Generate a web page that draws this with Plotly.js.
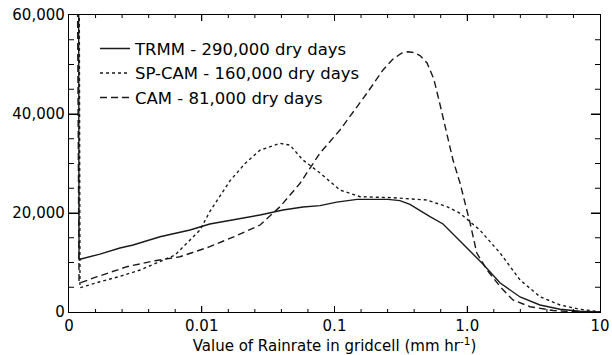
<!DOCTYPE html>
<html>
<head>
<meta charset="utf-8">
<script src="https://cdn.plot.ly/plotly-3.0.1.min.js"></script>
<style>html,body{margin:0;padding:0;background:#fff;}#chart{width:612px;height:355px;}</style>
</head>
<body>
<div id="chart"></div>
<script>
// Series names (legend)
const seriesNames = ["TRMM - 290,000 dry days", "SP-CAM - 160,000 dry days", "CAM - 81,000 dry days"];

// TRMM (solid)
const trmmX = [0.00115, 0.00119, 0.00171, 0.00242, 0.00304, 0.00485, 0.00816, 0.0115, 0.0178, 0.0275, 0.0409, 0.0579, 0.0778, 0.104, 0.148, 0.253, 0.311, 0.370, 0.524, 0.657, 0.882, 1.29, 1.77, 2.50, 3.53, 5.00, 7.07, 10];
const trmmY = [290000, 10600, 11700, 12930, 13530, 15200, 16560, 17780, 18700, 19600, 20600, 21200, 21500, 22200, 22760, 22760, 22500, 21750, 19250, 17780, 14340, 9900, 5860, 3030, 1410, 550, 150, 0];

// SP-CAM (dotted)
const spcamX = [0.00117, 0.00121, 0.00171, 0.00242, 0.00343, 0.00485, 0.00629, 0.00748, 0.00859, 0.0097, 0.0115, 0.0163, 0.0212, 0.0275, 0.0389, 0.0462, 0.0579, 0.0778, 0.110, 0.156, 0.276, 0.497, 0.704, 0.882, 1.25, 1.77, 2.50, 3.53, 5.00, 7.07, 10];
const spcamY = [160000, 4900, 6120, 7200, 8480, 10160, 11510, 13530, 15200, 16560, 20300, 26500, 30000, 32700, 34070, 33700, 30700, 28080, 24640, 23290, 23090, 22620, 21270, 19940, 16500, 11900, 6460, 3090, 1410, 550, 50];

// CAM (dashed)
const camX = [0.00115, 0.00119, 0.00163, 0.00273, 0.00444, 0.00686, 0.0115, 0.0178, 0.0275, 0.0389, 0.0550, 0.0778, 0.110, 0.138, 0.176, 0.232, 0.276, 0.320, 0.358, 0.400, 0.441, 0.498, 0.561, 0.616, 0.704, 0.781, 0.882, 1.05, 1.18, 1.41, 1.77, 2.21, 2.97, 4.43, 6.48, 10];
const camY = [81000, 5800, 7130, 9150, 10360, 11170, 13190, 15300, 17570, 21270, 26000, 32120, 36770, 40300, 44240, 48900, 51100, 52300, 52580, 52400, 51800, 50300, 47000, 42500, 36160, 30700, 26060, 18000, 11900, 8480, 5110, 2420, 1070, 300, 50, 0];

// Axis ticks
const xTickVals = [0.001, 0.01, 0.1, 1, 10];
const xTickText = ["0", "0.01", "0.1", "1.0", "10"];
const yTickVals = [0, 20000, 40000, 60000];
const yTickText = ["0", "20,000", "40,000", "60,000"];

// minor ticks: five equal log steps per x decade, 5,000 steps on y
const xMinor = [];
for (let d = -3; d < 1; d++) {
  for (let k = 1; k < 5; k++) xMinor.push(Math.pow(10, d + k * 0.2));
}
const yMinor = [];
for (let v = 5000; v < 60000; v += 5000) if (v % 20000 !== 0) yMinor.push(v);

// tick marks drawn as thin shapes on all four sides (inside the frame)
const plotW = 531, plotH = 297;
const tickShapes = [];
function xTick(v, len) {
  const f = len / plotH;
  tickShapes.push({type: "line", xref: "x", yref: "paper", x0: v, x1: v, y0: 0, y1: f, line: {color: "#000", width: 1}});
  tickShapes.push({type: "line", xref: "x", yref: "paper", x0: v, x1: v, y0: 1, y1: 1 - f, line: {color: "#000", width: 1}});
}
function yTick(v, len) {
  const f = len / plotW;
  tickShapes.push({type: "line", xref: "paper", yref: "y", x0: 0, x1: f, y0: v, y1: v, line: {color: "#000", width: 1}});
  tickShapes.push({type: "line", xref: "paper", yref: "y", x0: 1, x1: 1 - f, y0: v, y1: v, line: {color: "#000", width: 1}});
}
xTickVals.slice(1, -1).forEach(v => xTick(v, 6));
xMinor.forEach(v => xTick(v, 3));
yTickVals.slice(1, -1).forEach(v => yTick(v, 9));
yMinor.forEach(v => yTick(v, 5));

const ink = "#1a1a1a";
const traces = [
  {x: trmmX, y: trmmY, name: seriesNames[0], mode: "lines", line: {color: ink, width: 1.4, dash: "solid"}},
  {x: spcamX, y: spcamY, name: seriesNames[1], mode: "lines", line: {color: ink, width: 1.4, dash: "dot"}},
  {x: camX, y: camY, name: seriesNames[2], mode: "lines", line: {color: ink, width: 1.4, dash: "7px,4px"}}
];

const layout = {
  width: 612, height: 355,
  margin: {l: 69, r: 12, t: 15, b: 43},
  paper_bgcolor: "#fff", plot_bgcolor: "#fff",
  font: {family: "DejaVu Sans, sans-serif", color: "#000", size: 15},
  showlegend: true,
  legend: {x: 0.049, y: 0.945, xanchor: "left", yanchor: "top", bgcolor: "rgba(0,0,0,0)",
           font: {size: 16.5}, tracegroupgap: 0, itemwidth: 30},
  shapes: tickShapes,
  xaxis: {
    type: "log", range: [-3, 1],
    tickmode: "array", tickvals: xTickVals, ticktext: xTickText,
    ticks: "inside", ticklen: 6, tickwidth: 1, tickcolor: "#000",
    showline: true, linecolor: "#000", linewidth: 1.2, mirror: "ticks",
    showgrid: false, zeroline: false,
    tickfont: {size: 15},
    title: {text: "Value of Rainrate in gridcell (mm hr<sup>-1</sup>)", font: {size: 15}, standoff: 2}
  },
  yaxis: {
    range: [0, 60000],
    tickmode: "array", tickvals: yTickVals, ticktext: yTickText,
    ticks: "inside", ticklen: 9, tickwidth: 1, tickcolor: "#000",
    showline: true, linecolor: "#000", linewidth: 1.2, mirror: "ticks",
    showgrid: false, zeroline: false,
    tickfont: {size: 15}
  }
};

Plotly.newPlot("chart", traces, layout, {staticPlot: true, displayModeBar: false});
</script>
</body>
</html>
